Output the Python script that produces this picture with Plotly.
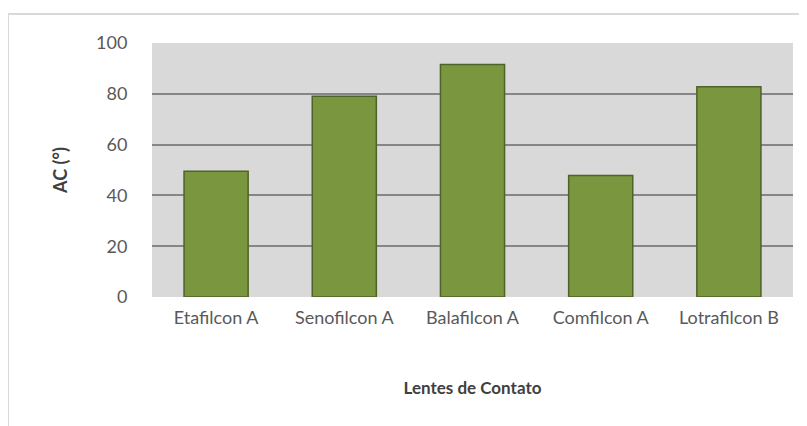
import plotly.graph_objects as go

lentes = ["Etafilcon A", "Senofilcon A", "Balafilcon A", "Comfilcon A", "Lotrafilcon B"]
ac = [49.5, 79, 91.5, 47.8, 82.8]
y_ticks = [0, 20, 40, 60, 80, 100]

fig = go.Figure(go.Bar(
    x=lentes, y=ac,
    marker=dict(color="#7a963f", line=dict(color="#4f6228", width=1.5)),
    width=0.5,
))

# page body has an 8px margin, so the figure is 8px smaller
fig.update_layout(
    width=799, height=418,
    margin=dict(l=144, r=14, t=35, b=129, autoexpand=False),
    paper_bgcolor="white",
    plot_bgcolor="#d9d9d9",
    font=dict(family="Lato, Liberation Sans, sans-serif", size=18, color="#595959"),
    showlegend=False,
    xaxis=dict(
        showgrid=False, showline=False,
        ticks="outside", ticklen=4, tickcolor="rgba(0,0,0,0)",
        tickfont=dict(size=18),
        title=dict(text="<b>Lentes de Contato</b>", font=dict(size=17, color="#404040"), standoff=55),
    ),
    yaxis=dict(
        range=[0, 100], tickvals=y_ticks, showgrid=True, gridcolor="#868686", gridwidth=1.5,
        zeroline=False,
        ticks="outside", ticklen=20, tickcolor="rgba(0,0,0,0)",
        tickfont=dict(size=18),
        title=dict(text="<b>AC (°)</b>", font=dict(size=18, color="#404040"), standoff=23),
    ),
    # outer chart border
    shapes=[dict(type="rect", xref="paper", yref="paper",
                 x0=-0.2246, x1=1.05, y0=-0.6, y1=1.114,
                 line=dict(color="#d9d9d9", width=2), layer="below")],
)

fig.write_html("out.html")
